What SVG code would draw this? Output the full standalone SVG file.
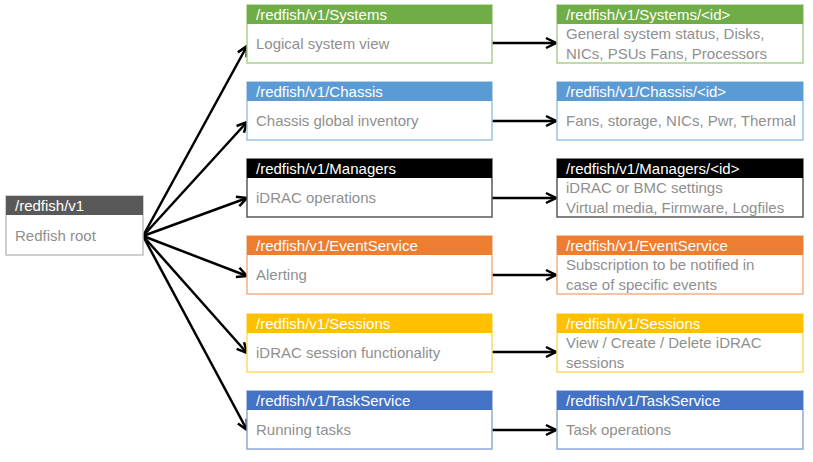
<svg xmlns="http://www.w3.org/2000/svg" width="813" height="462" viewBox="0 0 813 462">
<style>
.box{fill:#ffffff;stroke-width:1.5}
.hd{font-family:"Liberation Sans",Arial,sans-serif;font-size:15px;fill:#ffffff}
.bd{font-family:"Liberation Sans",Arial,sans-serif;font-size:15px;fill:#8f8f8f}
.con{stroke:#000;stroke-width:2.5;fill:none;marker-end:url(#arr)}
</style>
<defs>
<marker id="arr" markerUnits="userSpaceOnUse" markerWidth="14" markerHeight="14" refX="12" refY="7" orient="auto">
<path d="M2,2 L12,7 L2,12" fill="none" stroke="#000" stroke-width="2.5"/>
</marker>
</defs>
<rect width="813" height="462" fill="#ffffff"/>

<g id="connectors">
<line class="con" x1="143" y1="236" x2="247" y2="46"/>
<line class="con" x1="143" y1="236" x2="247" y2="122"/>
<line class="con" x1="143" y1="236" x2="247" y2="198"/>
<line class="con" x1="143" y1="236" x2="247" y2="276"/>
<line class="con" x1="143" y1="236" x2="247" y2="353"/>
<line class="con" x1="143" y1="236" x2="247" y2="430"/>
<line class="con" x1="492" y1="43" x2="556" y2="43"/>
<line class="con" x1="492" y1="121" x2="556" y2="121"/>
<line class="con" x1="492" y1="198" x2="556" y2="198"/>
<line class="con" x1="492" y1="275" x2="556" y2="275"/>
<line class="con" x1="492" y1="352" x2="556" y2="352"/>
<line class="con" x1="492" y1="430" x2="556" y2="430"/>
</g>

<g id="root">
<rect class="box" x="6" y="196" width="137" height="59" stroke="#bfbfbf"/>
<rect x="6" y="196" width="137" height="19" fill="#595959"/>
<text class="hd" x="15" y="210.5">/redfish/v1</text>
<text class="bd" x="15" y="241">Redfish root</text>
</g>

<g id="systems">
<rect class="box" x="247" y="5" width="245" height="58" stroke="#a9d18e"/>
<rect x="247" y="5" width="245" height="19" fill="#70ad47"/>
<text class="hd" x="256" y="19.5">/redfish/v1/Systems</text>
<text class="bd" x="256" y="49">Logical system view</text>
</g>
<g id="systems-id">
<rect class="box" x="557" y="5" width="246" height="58" stroke="#a9d18e"/>
<rect x="557" y="5" width="246" height="19" fill="#70ad47"/>
<text class="hd" x="566" y="19.5">/redfish/v1/Systems/&lt;id&gt;</text>
<text class="bd" x="566" y="39">General system status, Disks,</text>
<text class="bd" x="566" y="59">NICs, PSUs Fans, Processors</text>
</g>

<g id="chassis">
<rect class="box" x="247" y="82" width="245" height="58" stroke="#9dc3e6"/>
<rect x="247" y="82" width="245" height="19" fill="#5b9bd5"/>
<text class="hd" x="256" y="96.5">/redfish/v1/Chassis</text>
<text class="bd" x="256" y="126">Chassis global inventory</text>
</g>
<g id="chassis-id">
<rect class="box" x="557" y="82" width="246" height="58" stroke="#9dc3e6"/>
<rect x="557" y="82" width="246" height="19" fill="#5b9bd5"/>
<text class="hd" x="566" y="96.5">/redfish/v1/Chassis/&lt;id&gt;</text>
<text class="bd" x="566" y="126">Fans, storage, NICs, Pwr, Thermal</text>
</g>

<g id="managers">
<rect class="box" x="247" y="159" width="245" height="58" stroke="#595959"/>
<rect x="247" y="159" width="245" height="19" fill="#000000"/>
<text class="hd" x="256" y="173.5">/redfish/v1/Managers</text>
<text class="bd" x="256" y="203">iDRAC operations</text>
</g>
<g id="managers-id">
<rect class="box" x="557" y="159" width="246" height="58" stroke="#595959"/>
<rect x="557" y="159" width="246" height="19" fill="#000000"/>
<text class="hd" x="566" y="173.5">/redfish/v1/Managers/&lt;id&gt;</text>
<text class="bd" x="566" y="193">iDRAC or BMC settings</text>
<text class="bd" x="566" y="213">Virtual media, Firmware, Logfiles</text>
</g>

<g id="eventservice">
<rect class="box" x="247" y="236" width="245" height="58" stroke="#f4b183"/>
<rect x="247" y="236" width="245" height="19" fill="#ed7d31"/>
<text class="hd" x="256" y="250.5">/redfish/v1/EventService</text>
<text class="bd" x="256" y="280">Alerting</text>
</g>
<g id="eventservice-2">
<rect class="box" x="557" y="236" width="246" height="58" stroke="#f4b183"/>
<rect x="557" y="236" width="246" height="19" fill="#ed7d31"/>
<text class="hd" x="566" y="250.5">/redfish/v1/EventService</text>
<text class="bd" x="566" y="270">Subscription to be notified in</text>
<text class="bd" x="566" y="290">case of specific events</text>
</g>

<g id="sessions">
<rect class="box" x="247" y="314" width="245" height="58" stroke="#ffd966"/>
<rect x="247" y="314" width="245" height="19" fill="#ffc000"/>
<text class="hd" x="256" y="328.5">/redfish/v1/Sessions</text>
<text class="bd" x="256" y="358">iDRAC session functionality</text>
</g>
<g id="sessions-2">
<rect class="box" x="557" y="314" width="246" height="58" stroke="#ffd966"/>
<rect x="557" y="314" width="246" height="19" fill="#ffc000"/>
<text class="hd" x="566" y="328.5">/redfish/v1/Sessions</text>
<text class="bd" x="566" y="348">View / Create / Delete iDRAC</text>
<text class="bd" x="566" y="368">sessions</text>
</g>

<g id="taskservice">
<rect class="box" x="247" y="391" width="245" height="58" stroke="#8faadc"/>
<rect x="247" y="391" width="245" height="19" fill="#4472c4"/>
<text class="hd" x="256" y="405.5">/redfish/v1/TaskService</text>
<text class="bd" x="256" y="435">Running tasks</text>
</g>
<g id="taskservice-2">
<rect class="box" x="557" y="391" width="246" height="58" stroke="#8faadc"/>
<rect x="557" y="391" width="246" height="19" fill="#4472c4"/>
<text class="hd" x="566" y="405.5">/redfish/v1/TaskService</text>
<text class="bd" x="566" y="435">Task operations</text>
</g>
</svg>
